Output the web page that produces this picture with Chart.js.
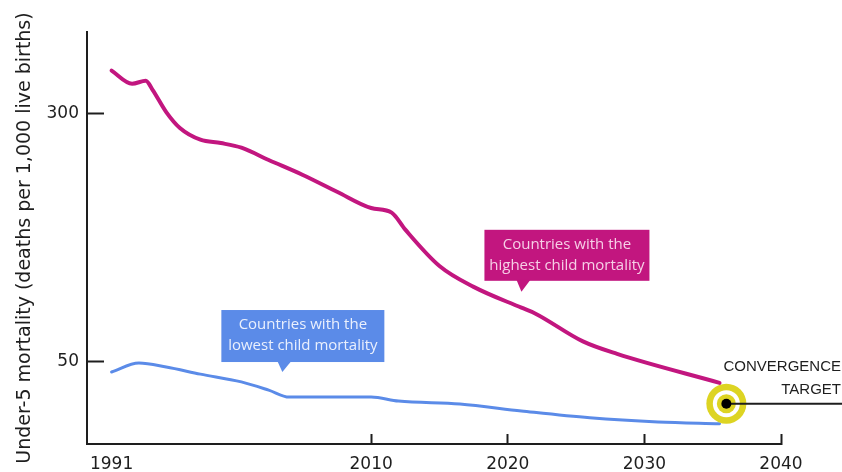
<!DOCTYPE html>
<html>
<head>
<meta charset="utf-8">
<script src="https://cdn.jsdelivr.net/npm/chart.js@4.4.1/dist/chart.umd.min.js"></script>
<style>
  html, body { margin: 0; padding: 0; background: #fff; }
  #wrap { width: 842px; height: 472px; }
</style>
</head>
<body>
<div id="wrap"><canvas id="chart" width="842" height="472"></canvas></div>
<script>
// values (y axis is logarithmic)
const highYears  = [1991, 1992.5, 1993.5, 1994, 1995, 1996, 1997.5, 1999, 2000.5, 2002.5, 2005, 2007.5, 2010, 2011.5, 2012.5, 2015, 2017.5, 2021, 2022, 2025.5, 2028, 2035.5];
const highValues = [410, 373, 381, 357, 304, 271, 249, 243, 235, 215, 193, 171, 152, 147, 130, 100, 86, 74, 71, 58, 53, 43];
const lowYears   = [1991, 1993, 1995, 1997.5, 2000.5, 2002.5, 2004, 2007, 2010, 2012, 2016.5, 2021, 2026, 2031, 2035.5];
const lowValues  = [46.5, 49.6, 48.2, 45.8, 43.3, 40.8, 38.8, 38.8, 38.8, 37.7, 36.9, 35.1, 33.4, 32.4, 32.0];

const xTicks = [1991, 2010, 2020, 2030, 2040];
const yTicks = [50, 300];

const targetYear = 2036;
const targetValue = 37;
const targetLabel = ['CONVERGENCE', 'TARGET'];

const highLabel = ['Countries with the', 'highest child mortality'];
const lowLabel  = ['Countries with the', 'lowest child mortality'];
const highTip = [2021, 83];   // where each callout points
const lowTip  = [2003.5, 46.5];

const MAGENTA = '#c2167f';
const BLUE = '#5b8be8';
const INK = '#1e1e1e';

const toPoints = (xs, ys) => xs.map((x, i) => ({ x, y: ys[i] }));

function callout(ctx, tx, ty, box, fill, textColor, lines) {
    const bottom = ty - box.gap, top = bottom - box.h;
    ctx.fillStyle = fill;
    ctx.fillRect(tx + box.left, top, box.right - box.left, box.h);
    ctx.beginPath();
    ctx.moveTo(tx - 5, bottom - 1);
    ctx.lineTo(tx + 9, bottom - 1);
    ctx.lineTo(tx, ty);
    ctx.closePath();
    ctx.fill();
    ctx.fillStyle = textColor;
    ctx.font = '15px "Open Sans"';
    ctx.textAlign = 'center';
    ctx.textBaseline = 'middle';
    const cx = tx + (box.left + box.right) / 2;
    lines.forEach((t, i) => ctx.fillText(t, cx, top + 15 + i * 21));
}

const annotations = {
    id: 'annotations',
    afterDatasetsDraw(chart) {
        const { ctx, scales: { x, y } } = chart;
        ctx.save();

        callout(ctx, x.getPixelForValue(highTip[0]), y.getPixelForValue(highTip[1]),
            { left: -37, right: 128, h: 51, gap: 11 }, MAGENTA, '#f6cfe6', highLabel);
        callout(ctx, x.getPixelForValue(lowTip[0]), y.getPixelForValue(lowTip[1]),
            { left: -61, right: 102, h: 52, gap: 10 }, BLUE, '#eaf0fd', lowLabel);

        // convergence target
        const cx = x.getPixelForValue(targetYear), cy = y.getPixelForValue(targetValue);
        const ring = (r, c) => { ctx.beginPath(); ctx.arc(cx, cy, r, 0, Math.PI * 2); ctx.fillStyle = c; ctx.fill(); };
        ring(20, '#ddd422');
        ring(13.5, '#ffffff');
        ring(9.5, '#ddd422');
        ctx.strokeStyle = INK;
        ctx.lineWidth = 2;
        ctx.beginPath();
        ctx.moveTo(cx, cy);
        ctx.lineTo(chart.width, cy);
        ctx.stroke();
        ring(5, '#000');

        ctx.fillStyle = INK;
        ctx.font = '15px "Liberation Sans"';
        ctx.textAlign = 'right';
        ctx.textBaseline = 'middle';
        ctx.fillText(targetLabel[0], chart.width - 1, cy - 37);
        ctx.fillText(targetLabel[1], chart.width - 1, cy - 14);
        ctx.restore();
    }
};

new Chart(document.getElementById('chart').getContext('2d'), {
    type: 'line',
    data: {
        datasets: [
            {
                data: toPoints(highYears, highValues),
                borderColor: MAGENTA,
                borderWidth: 4,
                pointRadius: 0,
                cubicInterpolationMode: 'monotone',
                borderCapStyle: 'round'
            },
            {
                data: toPoints(lowYears, lowValues),
                borderColor: BLUE,
                borderWidth: 3,
                pointRadius: 0,
                cubicInterpolationMode: 'monotone',
                borderCapStyle: 'round'
            }
        ]
    },
    options: {
        responsive: false,
        animation: false,
        layout: { padding: { top: 32, right: 61, left: 0, bottom: 0 } },
        plugins: { legend: { display: false }, tooltip: { enabled: false } },
        scales: {
            x: {
                type: 'linear',
                min: 1989.2,
                max: 2040,
                afterBuildTicks: s => { s.ticks = xTicks.map(v => ({ value: v })); },
                afterFit: s => { s.height = 28; },
                border: { color: INK, width: 2 },
                grid: {
                    drawOnChartArea: false,
                    tickLength: -10,
                    tickWidth: 2,
                    tickColor: c => (c.tick && c.tick.value === 1991 ? 'rgba(0,0,0,0)' : INK)
                },
                ticks: {
                    callback: v => String(v),
                    color: INK,
                    padding: 20,
                    maxRotation: 0,
                    autoSkip: false,
                    font: { family: 'DejaVu Sans', size: 17 }
                }
            },
            y: {
                type: 'logarithmic',
                min: 27.65,
                max: 542,
                afterBuildTicks: s => { s.ticks = yTicks.map(v => ({ value: v })); },
                afterFit: s => { s.width = 87; s.paddingTop = 0; s.paddingBottom = 0; },
                border: { color: INK, width: 2 },
                grid: { drawOnChartArea: false, tickLength: -17, tickWidth: 2, tickColor: INK },
                ticks: {
                    callback: v => String(v),
                    color: INK,
                    padding: 25,
                    font: { family: 'DejaVu Sans', size: 17 }
                },
                title: {
                    display: true,
                    text: 'Under-5 mortality (deaths per 1,000 live births)',
                    color: INK,
                    padding: { top: 14, bottom: 0 },
                    font: { family: 'DejaVu Sans', size: 19 }
                }
            }
        }
    },
    plugins: [annotations]
});
</script>
</body>
</html>
